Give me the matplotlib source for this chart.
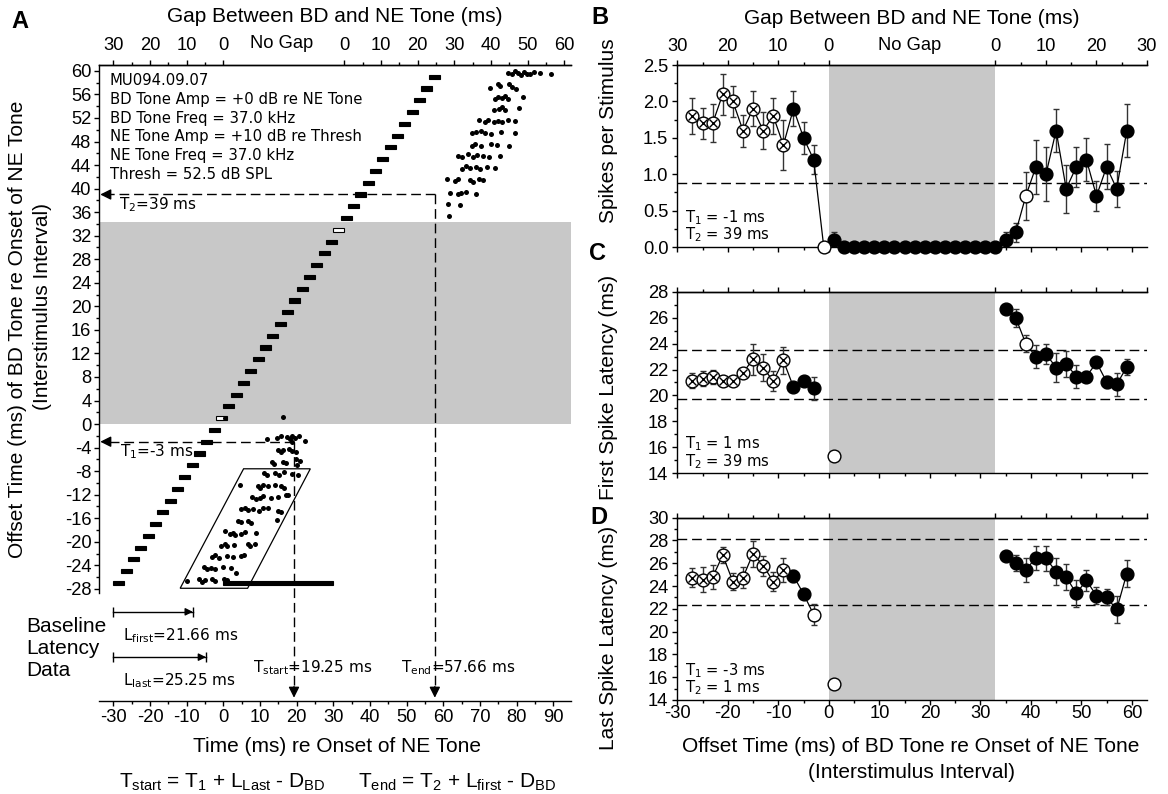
import numpy as np
import matplotlib
matplotlib.use('Agg')
import matplotlib.pyplot as plt
from matplotlib.patches import Rectangle, Polygon
from matplotlib.ticker import MultipleLocator, FormatStrFormatter, FixedLocator

plt.rcParams['font.family'] = ['Liberation Sans', 'DejaVu Sans']
plt.rcParams['mathtext.default'] = 'regular'
plt.rcParams['axes.unicode_minus'] = False

# ---- data -------------------------------------------------------------
offsets = [-27, -25, -23, -21, -19, -17, -15, -13, -11, -9, -7, -5, -3, -1,
           1, 3, 5, 7, 9, 11, 13, 15, 17, 19, 21, 23, 25, 27, 29, 31, 33,
           35, 37, 39, 41, 43, 45, 47, 49, 51, 53, 55, 57, 59]
hollow_rows = [1, 33]
bd_duration = 3.0
ne_tone = (0.0, 30.0)

# raster spikes, lower cluster (BD tone alone / early offsets)
lower_x = [12.0, 14.6, 15.6, 17.3, 18.2, 18.7, 19.4, 20.7, 22.3, 18.6,
           14.9, 15.6, 16.3, 17.9, 18.7, 19.7, 20.9,
           13.2, 13.8, 16.3, 17.1, 19.7, 20.0,
           11.2, 12.0, 14.0, 15.1, 16.6, 18.7, 20.4,
           4.5, 9.4, 10.1, 10.9, 12.2, 14.0, 15.6, 16.6, 17.6,
           7.8, 8.9, 9.9, 10.9, 13.0, 14.9, 17.1,
           4.7, 5.8, 6.8, 8.0, 9.7, 10.9, 12.2, 14.8, 15.6, 14.5,
           4.0, 4.7, 6.8, 7.5,
           0.3, 1.7, 2.5, 3.2, 4.7, 5.8, 8.9,
           -0.6, 0.3, 1.1, 2.9, 6.8, 7.3, 8.7,
           -3.0, -2.3, -1.2, 1.1, 2.7, 4.7, 5.6,
           -5.3, -4.5, -3.5, -2.2, -0.2, 2.2, 3.5,
           -9.9, -6.6, -5.8, -5.1, -3.0, -2.3, 0.1, 0.6, 1.1,
           16.3, 0.3]
lower_y = [-2.6, -2.3, -2.1, -2.2, -2.5, -2.0, -2.3, -2.0, -2.9, -3.0,
           -4.4, -4.7, -4.4, -4.2, -4.6, -4.8, -6.2,
           -6.5, -6.8, -6.4, -6.7, -6.0, -6.9,
           -8.4, -8.7, -8.3, -8.6, -8.2, -8.5, -8.6,
           -10.3, -10.5, -10.8, -10.4, -10.6, -10.3, -10.5, -10.9, -12.0,
           -12.4, -12.8, -12.5, -12.3, -12.6, -12.4, -12.0,
           -14.5, -14.3, -14.6, -14.4, -14.7, -14.3, -14.2, -14.8, -14.9, -16.3,
           -16.4, -16.7, -16.5, -16.8,
           -18.2, -18.7, -18.5, -18.8, -18.6, -18.4, -18.5,
           -20.7, -20.3, -20.8, -20.5, -20.4, -20.7, -20.3,
           -22.6, -22.3, -22.8, -22.4, -22.6, -22.5, -22.3,
           -24.3, -24.6, -24.4, -24.7, -24.3, -24.5, -25.3,
           -26.6, -26.4, -26.8, -26.5, -26.3, -26.7, -26.4, -26.7, -26.5,
           1.2, 1.0]

# raster spikes, upper cluster (late offsets)
upper_x = [77.5, 78.8, 79.5, 80.3, 81.1, 81.9, 82.7, 83.7, 84.7, 86.3, 89.4,
           72.7, 74.9, 75.4, 78.0, 78.8, 79.8,
           74.1, 74.9, 76.0, 76.8, 77.5, 81.6,
           73.9, 75.1, 76.0, 76.7, 80.6,
           69.8, 71.3, 72.1, 73.9, 74.9, 76.0, 77.5, 79.6,
           67.7, 68.9, 70.3, 71.3, 72.9, 75.7, 79.6,
           67.7, 68.7, 70.3, 72.9, 74.7, 78.0,
           64.1, 65.1, 66.7, 68.2, 69.2, 70.8, 72.3, 75.4,
           65.1, 66.2, 67.2, 68.9, 70.0, 71.8, 74.1,
           61.0, 63.1, 64.1, 67.2, 68.2, 69.8, 70.8,
           61.7, 64.1, 64.8, 66.2, 68.9,
           61.3, 64.4,
           61.5]
upper_y = [59.7, 59.5, 59.9, 59.6, 59.3, 59.8, 59.5, 59.4, 59.8, 59.7, 59.5,
           57.1, 57.8, 57.5, 57.7, 57.3, 57.0,
           55.2, 55.6, 55.4, 55.8, 55.3, 55.5,
           53.3, 53.6, 53.8, 53.4, 53.7,
           51.7, 51.4, 51.6, 51.3, 51.5, 51.4, 51.6, 51.5,
           49.4, 49.7, 49.8, 49.5, 49.3, 49.6, 49.4,
           47.3, 47.6, 47.2, 47.5, 47.4, 47.2,
           45.6, 45.3, 45.8, 45.4, 45.7, 45.5, 45.3, 45.6,
           43.4, 43.8, 43.5, 43.6, 43.3, 43.7, 43.5,
           41.6, 41.3, 41.7, 41.5, 41.2, 41.6, 41.4,
           39.3, 39.0, 39.2, 39.4, 39.1,
           37.4, 37.2,
           35.4]

window = [(-11.8, -27.9), (6.6, -27.9), (23.7, -7.6), (5.5, -7.6)]
T1_A, T2_A = -3, 39
L_first, L_last = 21.66, 25.25
T_start, T_end = 19.25, 57.66

info_lines = ['MU094.09.07', 'BD Tone Amp = +0 dB re NE Tone',
              'BD Tone Freq = 37.0 kHz', 'NE Tone Amp = +10 dB re Thresh',
              'NE Tone Freq = 37.0 kHz', 'Thresh = 52.5 dB SPL']

nan = np.nan
spikes = [1.8, 1.7, 1.7, 2.1, 2.0, 1.6, 1.9, 1.6, 1.8, 1.4, 1.9, 1.5, 1.2, 0.0,
          0.1, 0, 0, 0, 0, 0, 0, 0, 0, 0, 0, 0, 0, 0, 0, 0, 0,
          0.1, 0.2, 0.7, 1.1, 1.0, 1.6, 0.8, 1.1, 1.2, 0.7, 1.1, 0.8, 1.6]
spikes_err = [0.25, 0.21, 0.26, 0.28, 0.21, 0.22, 0.24, 0.26, 0.25, 0.34, 0.24, 0.22, 0.2, 0,
              0.1, 0, 0, 0, 0, 0, 0, 0, 0, 0, 0, 0, 0, 0, 0, 0, 0,
              0.1, 0.13, 0.33, 0.37, 0.37, 0.3, 0.33, 0.28, 0.3, 0.21, 0.31, 0.25, 0.37]
spikes_kind = 'x' * 10 + 'fff' + 'o' + 'f' * 19 + 'o' + 'f' * 10

first_lat = [21.15, 21.3, 21.45, 21.15, 21.15, 21.75, 22.8, 22.15, 21.1, 22.7,
             20.65, 21.1, 20.55, nan, 15.35] + [nan] * 16 + \
            [26.65, 26.0, 24.0, 23.0, 23.2, 22.15, 22.45, 21.45, 21.45, 22.55,
             21.05, 20.85, 22.2]
first_err = [0.55, 0.55, 0.55, 0.3, 0.3, 0.3, 1.2, 1.05, 0.77, 1.05,
             0.2, 0.4, 0.87, 0, 0] + [0] * 16 + \
            [0.2, 0.7, 0.65, 0.9, 0.75, 1.1, 1.0, 0.9, 0.42, 0.25, 0.44, 0.86, 0.64]
first_kind = 'x' * 10 + 'fff' + '-' + 'o' + '-' * 16 + 'ff' + 'o' + 'f' * 10

last_lat = [24.75, 24.55, 24.8, 26.7, 24.4, 24.75, 26.85, 25.8, 24.4, 25.4,
            24.9, 23.3, 21.5, nan, 15.4] + [nan] * 16 + \
           [26.65, 26.0, 25.4, 26.5, 26.45, 25.25, 24.8, 23.35, 24.5, 23.15,
            23.0, 21.95, 25.1]
last_err = [0.83, 1.1, 1.08, 0.69, 0.76, 0.92, 1.14, 0.88, 0.8, 1.02,
            0.5, 0.2, 0.95, 0, 0] + [0] * 16 + \
           [0.2, 0.69, 1.02, 1.05, 1.1, 1.17, 1.14, 1.17, 0.95, 0.73, 0.7, 1.17, 1.21]
last_kind = 'x' * 10 + 'ff' + 'o' + '-' + 'o' + '-' * 16 + 'f' * 13

spikes_base = [0.88]
first_base = [23.5, 19.7]
last_base = [28.15, 22.3]
T_texts = [('T$_1$ = -1 ms', 'T$_2$ = 39 ms'),
           ('T$_1$ = 1 ms', 'T$_2$ = 39 ms'),
           ('T$_1$ = -3 ms', 'T$_2$ = 1 ms')]

gap_left_ticks = [-30, -20, -10, 0]
gap_left_labels = ['30', '20', '10', '0']
gap_zero = 33

# ---- layout -----------------------------------------------------------
W, H = 1168, 794
GRAY = '#c8c8c8'
TICK = 13.2
LAB = 15
NOTE = ['DejaVu Sans']


def box(l, t, r, b):
    return [l / W, 1 - b / H, (r - l) / W, (b - t) / H]


def gap_axis(ax, right_max, labels=True, pad=4.0):
    right = list(range(gap_zero, gap_zero + right_max + 1, 10))
    sec = ax.secondary_xaxis('top')
    sec.set_xticks(gap_left_ticks + right)
    if labels:
        sec.set_xticklabels(gap_left_labels +
                            [str(v - gap_zero) for v in right])
    else:
        sec.set_xticklabels([])
    sec.set_xticks([-25, -15, -5] + [v + 5 for v in right if v + 5 < gap_zero + right_max], minor=True)
    sec.tick_params(which='major', length=3.5, width=1, labelsize=TICK, pad=pad)
    sec.tick_params(which='minor', length=2, width=1)
    sec.spines['top'].set_linewidth(1)
    return sec


fig = plt.figure(figsize=(W / 100, H / 100), dpi=100)

# ---- panel A ----------------------------------------------------------
axA = fig.add_axes(box(99.5, 65, 571, 700.7))
axA.set_xlim(-33.8, 94.8)
axA.set_ylim(-47, 61)
axA.spines['right'].set_visible(False)
axA.spines['left'].set_bounds(-28.7, 61)
for s in axA.spines.values():
    s.set_linewidth(1)
axA.axhspan(0, 34.3, color=GRAY, lw=0, zorder=0)

for r in offsets:
    hollow = r in hollow_rows
    axA.add_patch(Rectangle((r - bd_duration, r - 0.35), bd_duration, 0.7,
                            facecolor='white' if hollow else 'black',
                            edgecolor='black', lw=0.8, zorder=2))
axA.add_patch(Rectangle((ne_tone[0], offsets[0] - 0.35), ne_tone[1] - ne_tone[0], 0.7,
                        facecolor='black', edgecolor='black', lw=0.8, zorder=2))
axA.plot(lower_x, lower_y, 'o', color='black', ms=3.6, mew=0, zorder=3)
axA.plot(upper_x, upper_y, 'o', color='black', ms=3.6, mew=0, zorder=3)
axA.add_patch(Polygon(window, closed=True, fill=False, edgecolor='black', lw=0.9, zorder=3))

dash = dict(color='black', lw=1, dashes=(7, 3.5), zorder=4)
arrow = dict(arrowstyle='-|>', color='black', lw=1, mutation_scale=16,
             shrinkA=0, shrinkB=0)
axA.plot([T_end, -30.9], [T2_A, T2_A], **dash)
axA.plot([T_end, T_end], [T2_A, -44.8], **dash)
axA.plot([T_start, -30.9], [T1_A, T1_A], **dash)
axA.plot([T_start, T_start], [T1_A, -44.8], **dash)
for yy in (T1_A, T2_A):
    axA.annotate('', xy=(-33.6, yy), xytext=(-30.9, yy), arrowprops=arrow, zorder=5)
for xx in (T_start, T_end):
    axA.annotate('', xy=(xx, -46.5), xytext=(xx, -44.6), arrowprops=arrow, zorder=5)

for i, line in enumerate(info_lines):
    axA.text(-31, 58.35 - 3.18 * i, line, family=NOTE, fontsize=10.7,
             va='center', ha='left')
axA.text(-28.4, 37.2, 'T$_2$=39 ms', family=NOTE, fontsize=11, va='center')
axA.text(-28.1, -4.7, 'T$_1$=-3 ms', family=NOTE, fontsize=11, va='center')

# baseline latency markers
for L, yy, lab, ty in ((L_first, -31.9, 'L$_{first}$=21.66 ms', -36.0),
                       (L_last, -39.6, 'L$_{last}$=25.25 ms', -43.6)):
    axA.plot([-30, -30 + L], [yy, yy], color='black', lw=1)
    axA.plot([-30, -30 + L], [yy, yy], '|', color='black', ms=7, mew=1)
    axA.annotate('', xy=(-30 + L, yy), xytext=(-30 + L - 2, yy),
                 arrowprops=dict(arrowstyle='-|>', color='black', lw=1,
                                 mutation_scale=11, shrinkA=0, shrinkB=0))
    axA.text(-27.3, ty, lab, family=NOTE, fontsize=11, va='center')
axA.text(24.4, -41.4, 'T$_{start}$=19.25 ms', family=NOTE, fontsize=11,
         va='center', ha='center')
axA.text(63.9, -41.4, 'T$_{end}$=57.66 ms', family=NOTE, fontsize=11,
         va='center', ha='center')

axA.set_yticks(list(range(-28, 61, 4)))
axA.yaxis.set_minor_locator(FixedLocator(list(range(-28, 61, 2))))
axA.set_xticks(list(range(-30, 91, 10)))
axA.xaxis.set_minor_locator(MultipleLocator(5))
axA.tick_params(which='major', length=3.5, width=1, labelsize=TICK, pad=2.4)
axA.tick_params(which='minor', length=2, width=1)
axA.tick_params(axis='x', pad=2.2)
gap_axis(axA, 60, pad=4.6)
axA.annotate('No Gap', xy=(16, 1), xycoords=('data', 'axes fraction'),
             xytext=(0, 15.8), textcoords='offset points', ha='center',
             va='center', fontsize=TICK)

fig.text(335 / W, 1 - 17 / H, 'Gap Between BD and NE Tone (ms)', ha='center',
         va='center', fontsize=LAB)
fig.text(337 / W, 1 - 747 / H, 'Time (ms) re Onset of NE Tone', ha='center',
         va='center', fontsize=LAB)
fig.text(17.5 / W, 1 - 329 / H, 'Offset Time (ms) of BD Tone re Onset of NE Tone',
         rotation=90, ha='center', va='center', fontsize=LAB)
fig.text(43 / W, 1 - 306 / H, '(Interstimulus Interval)', rotation=90,
         ha='center', va='center', fontsize=LAB)
for txt, yy in (('Baseline', 627), ('Latency', 649), ('Data', 671)):
    fig.text(26 / W, 1 - yy / H, txt, ha='left', va='center', fontsize=LAB)
fig.text(222 / W, 1 - 782 / H, 'T$_{start}$ = T$_1$ + L$_{Last}$ - D$_{BD}$',
         ha='center', va='center', fontsize=LAB)
fig.text(457 / W, 1 - 782 / H, 'T$_{end}$ = T$_2$ + L$_{first}$ - D$_{BD}$',
         ha='center', va='center', fontsize=LAB)

# ---- panels B, C, D ---------------------------------------------------


def draw_series(ax, vals, errs, kinds):
    x = np.array(offsets, float)
    y = np.array(vals, float)
    e = np.array(errs, float)
    k = np.array(list(kinds))
    ax.plot(x, y, color='black', lw=0.9, zorder=3)
    has = e > 0
    ax.errorbar(x[has], y[has], yerr=e[has], fmt='none', ecolor='#333333',
                elinewidth=1, capsize=2.5, capthick=1, zorder=2)
    sel = k == 'f'
    ax.plot(x[sel], y[sel], 'o', ms=9.2, mfc='black', mec='black', mew=1,
            zorder=4, clip_on=False)
    sel = (k == 'o') | (k == 'x')
    ax.plot(x[sel], y[sel], 'o', ms=9.2, mfc='white', mec='black', mew=1,
            zorder=4, clip_on=False)
    sel = k == 'x'
    ax.plot(x[sel], y[sel], 'x', ms=6.3, mec='black', mew=1, zorder=5,
            clip_on=False)


panels = [
    (box(677.3, 65, 1147, 247), spikes, spikes_err, spikes_kind, spikes_base,
     (0, 2.5), 0.5, 0.25, '%.1f', 'Spikes per Stimulus', 131),
    (box(677.3, 291.7, 1147, 473.3), first_lat, first_err, first_kind, first_base,
     (14, 28), 2, 1, '%d', 'First Spike Latency (ms)', 387),
    (box(677.3, 517.7, 1147, 700), last_lat, last_err, last_kind, last_base,
     (14, 30), 2, 1, '%d', 'Last Spike Latency (ms)', 638),
]
T_pos = [(0.40, 0.165), (16.25, 14.9), (16.6, 15.05)]
axes = []
for i, (rect, vals, errs, kinds, base, ylim, major, minor, fmt, lab, ly) in enumerate(panels):
    ax = fig.add_axes(rect)
    axes.append(ax)
    ax.set_xlim(-30, 63)
    ax.set_ylim(*ylim)
    ax.spines['right'].set_visible(False)
    for s in ax.spines.values():
        s.set_linewidth(1)
    ax.axvspan(0, gap_zero, color=GRAY, lw=0, zorder=0)
    for b in base:
        ax.axhline(b, color='black', lw=1, dashes=(7, 3.5), zorder=1)
    draw_series(ax, vals, errs, kinds)
    ax.yaxis.set_major_locator(MultipleLocator(major))
    ax.yaxis.set_minor_locator(MultipleLocator(minor))
    ax.yaxis.set_major_formatter(FormatStrFormatter(fmt))
    ax.set_xticks(list(range(-30, 61, 10)))
    ax.xaxis.set_minor_locator(MultipleLocator(5))
    ax.tick_params(which='major', length=3.5, width=1, labelsize=TICK, pad=3.0)
    ax.tick_params(which='minor', length=2, width=1)
    ax.tick_params(axis='x', pad=0.3)
    if i < 2:
        ax.set_xticklabels([])
    gap_axis(ax, 30, labels=(i == 0), pad=3.4)
    t1, t2 = T_texts[i]
    ax.text(-28.4, T_pos[i][0], t1, family=NOTE, fontsize=10.6, va='center')
    ax.text(-28.4, T_pos[i][1], t2, family=NOTE, fontsize=10.6, va='center')
    fig.text(608 / W, 1 - ly / H, lab, rotation=90, ha='center', va='center',
             fontsize=LAB)

axes[0].annotate('No Gap', xy=(16, 1), xycoords=('data', 'axes fraction'),
                 xytext=(0, 14.4), textcoords='offset points', ha='center',
                 va='center', fontsize=TICK)
fig.text(912 / W, 1 - 18 / H, 'Gap Between BD and NE Tone (ms)', ha='center',
         va='center', fontsize=LAB)
fig.text(911 / W, 1 - 747 / H, 'Offset Time (ms) of BD Tone re Onset of NE Tone',
         ha='center', va='center', fontsize=LAB)
fig.text(911 / W, 1 - 772 / H, '(Interstimulus Interval)', ha='center',
         va='center', fontsize=LAB)

for letter, x, y in (('A', 20, 22), ('B', 600, 18), ('C', 598, 254), ('D', 599, 518)):
    fig.text(x / W, 1 - y / H, letter, ha='center', va='center',
             fontsize=17, fontweight='bold')

fig.savefig('out.png', dpi=100)
